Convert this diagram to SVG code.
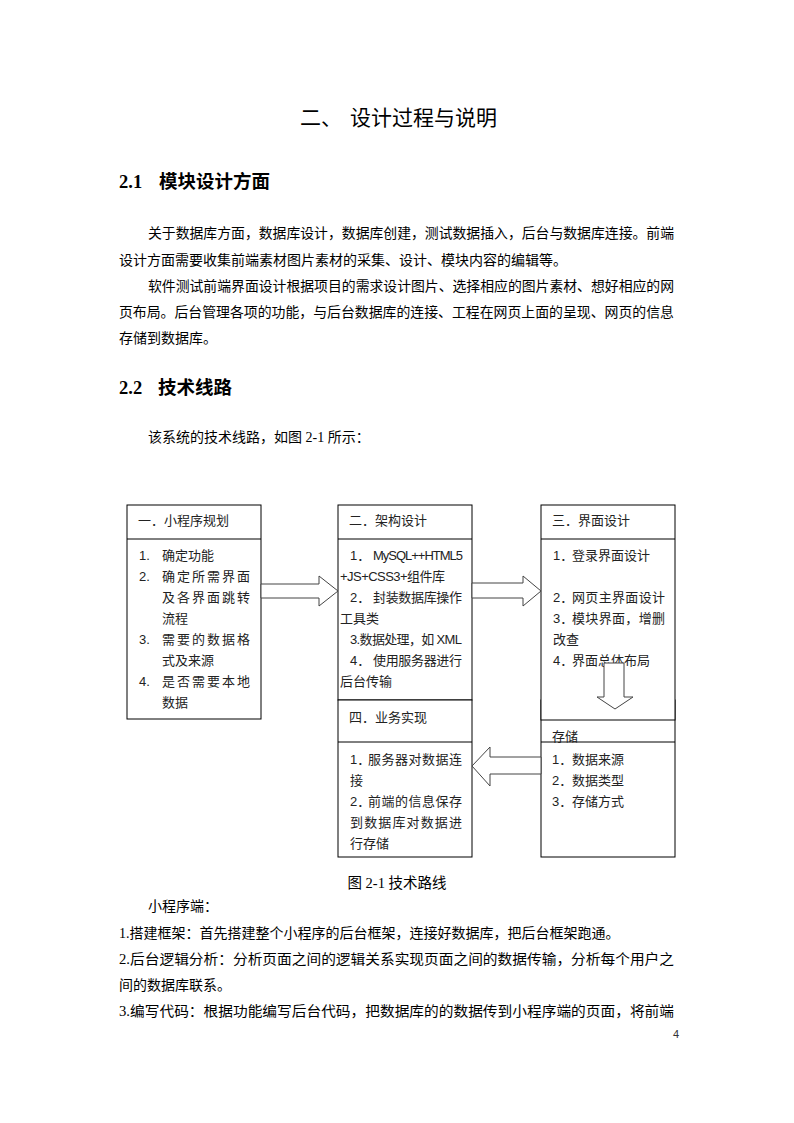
<svg xmlns="http://www.w3.org/2000/svg" width="794" height="1123" viewBox="0 0 794 1123">
<style>
.pg{font-family:"Liberation Serif","Noto Sans CJK SC",serif;font-size:14px;fill:#000}
.h1{font-family:"Liberation Serif","Noto Sans CJK SC",serif;font-size:21px;fill:#000}
.h2{font-family:"Liberation Serif","Noto Sans CJK SC",serif;font-size:18.5px;font-weight:bold;fill:#000}
.bx{font-family:"Liberation Sans","Noto Sans CJK SC",sans-serif;font-size:13px;fill:#222}
.box{fill:#fff;stroke:#000;stroke-width:1}
.div{stroke:#000;stroke-width:1}
.arr{fill:#fff;stroke:#444;stroke-width:1}
</style>
<rect width="794" height="1123" fill="#fff"/>
<g id="page-text">
<text class="h1" x="300" y="125">二、</text>
<text class="h1" x="350" y="125" textLength="147">设计过程与说明</text>
<text class="h2" x="119" y="188">2.1</text>
<text class="h2" x="159" y="188">模块设计方面</text>
<text class="pg" x="148" y="238" textLength="526" lengthAdjust="spacingAndGlyphs">关于数据库方面，数据库设计，数据库创建，测试数据插入，后台与数据库连接。前端</text>
<text class="pg" x="119" y="265">设计方面需要收集前端素材图片素材的采集、设计、模块内容的编辑等。</text>
<text class="pg" x="148" y="291" textLength="526" lengthAdjust="spacingAndGlyphs">软件测试前端界面设计根据项目的需求设计图片、选择相应的图片素材、想好相应的网</text>
<text class="pg" x="119" y="317" textLength="555" lengthAdjust="spacingAndGlyphs">页布局。后台管理各项的功能，与后台数据库的连接、工程在网页上面的呈现、网页的信息</text>
<text class="pg" x="119" y="343">存储到数据库。</text>
<text class="h2" x="119" y="394">2.2</text>
<text class="h2" x="158" y="394">技术线路</text>
<text class="pg" x="148" y="442">该系统的技术线路，如图 2-1 所示：</text>
<text class="pg" x="397" y="888" text-anchor="middle" style="font-size:14.5px">图 2-1 技术路线</text>
<text class="pg" x="148" y="911">小程序端：</text>
<text class="pg" x="119" y="938">1.搭建框架：首先搭建整个小程序的后台框架，连接好数据库，把后台框架跑通。</text>
<text class="pg" x="119" y="964" textLength="555" lengthAdjust="spacingAndGlyphs">2.后台逻辑分析：分析页面之间的逻辑关系实现页面之间的数据传输，分析每个用户之</text>
<text class="pg" x="119" y="990">间的数据库联系。</text>
<text class="pg" x="119" y="1016" textLength="555" lengthAdjust="spacingAndGlyphs">3.编写代码：根据功能编写后台代码，把数据库的的数据传到小程序端的页面，将前端</text>
<text x="673" y="1038" style="font-family:'Liberation Sans',sans-serif;font-size:11px;fill:#333">4</text>
</g>
<g id="node1">
<rect class="box" x="127" y="505" width="134" height="214"/>
<line class="div" x1="127" y1="539" x2="261" y2="539"/>
<text class="bx" x="138" y="525">一．小程序规划</text>
<text class="bx" x="139" y="560">1.</text><text class="bx" x="162" y="560">确定功能</text>
<text class="bx" x="139" y="581">2.</text><text class="bx" x="162" y="581" textLength="88">确定所需界面</text>
<text class="bx" x="162" y="602" textLength="88">及各界面跳转</text>
<text class="bx" x="162" y="623">流程</text>
<text class="bx" x="139" y="644">3.</text><text class="bx" x="162" y="644" textLength="88">需要的数据格</text>
<text class="bx" x="162" y="665">式及来源</text>
<text class="bx" x="139" y="686">4.</text><text class="bx" x="162" y="686" textLength="88">是否需要本地</text>
<text class="bx" x="162" y="707">数据</text>
</g>
<g id="node2">
<rect class="box" x="338" y="505" width="134" height="195"/>
<line class="div" x1="338" y1="539" x2="472" y2="539"/>
<text class="bx" x="349" y="525">二．架构设计</text>
<text class="bx" x="350" y="560">1．</text><text class="bx" x="373" y="560" textLength="90">MySQL++HTML5</text>
<text class="bx" x="340" y="581" textLength="105">+JS+CSS3+组件库</text>
<text class="bx" x="350" y="602">2．</text><text class="bx" x="373" y="602" textLength="89">封装数据库操作</text>
<text class="bx" x="340" y="623">工具类</text>
<text class="bx" x="350" y="644" textLength="112">3.数据处理，如 XML</text>
<text class="bx" x="350" y="665">4．</text><text class="bx" x="373" y="665" textLength="89">使用服务器进行</text>
<text class="bx" x="340" y="686">后台传输</text>
</g>
<g id="node4">
<rect class="box" x="338" y="700" width="134" height="157"/>
<line class="div" x1="338" y1="742" x2="472" y2="742"/>
<text class="bx" x="349" y="722">四．业务实现</text>
<text class="bx" x="350" y="764">1．</text><text class="bx" x="368" y="764" textLength="94">服务器对数据连</text>
<text class="bx" x="350" y="785">接</text>
<text class="bx" x="350" y="806">2．</text><text class="bx" x="368" y="806" textLength="94">前端的信息保存</text>
<text class="bx" x="350" y="827" textLength="112">到数据库对数据进</text>
<text class="bx" x="350" y="848">行存储</text>
</g>
<g id="node5">
<rect class="box" x="541" y="700" width="134" height="157"/>
<line class="div" x1="541" y1="742" x2="675" y2="742"/>
<text class="bx" x="552" y="741">存储</text>
<text class="bx" x="552" y="764">1．</text><text class="bx" x="572" y="764">数据来源</text>
<text class="bx" x="552" y="785">2．</text><text class="bx" x="572" y="785">数据类型</text>
<text class="bx" x="552" y="806">3．</text><text class="bx" x="572" y="806">存储方式</text>
</g>
<g id="node3">
<rect class="box" x="541" y="505" width="134" height="215"/>
<line class="div" x1="541" y1="539" x2="675" y2="539"/>
<text class="bx" x="552" y="525">三．界面设计</text>
<text class="bx" x="553" y="560">1．</text><text class="bx" x="572" y="560">登录界面设计</text>
<text class="bx" x="553" y="602">2．</text><text class="bx" x="572" y="602" textLength="93">网页主界面设计</text>
<text class="bx" x="553" y="623">3．</text><text class="bx" x="572" y="623" textLength="93">模块界面，增删</text>
<text class="bx" x="553" y="644">改查</text>
<text class="bx" x="553" y="665">4．</text><text class="bx" x="572" y="665">界面总体布局</text>
</g>
<g id="connectors">
<polygon class="arr" points="261,584 319,584 319,576 338,591 319,606 319,598 261,598"/>
<polygon class="arr" points="472,583 523,583 523,576 541,591 523,606 523,598 472,598"/>
<polygon class="arr" points="604,663 624,663 624,697 633,697 615,709 597,697 604,697"/>
<polygon class="arr" points="541,757 490,757 490,747 472,766 490,786 490,774 541,774"/>
</g>
</svg>
